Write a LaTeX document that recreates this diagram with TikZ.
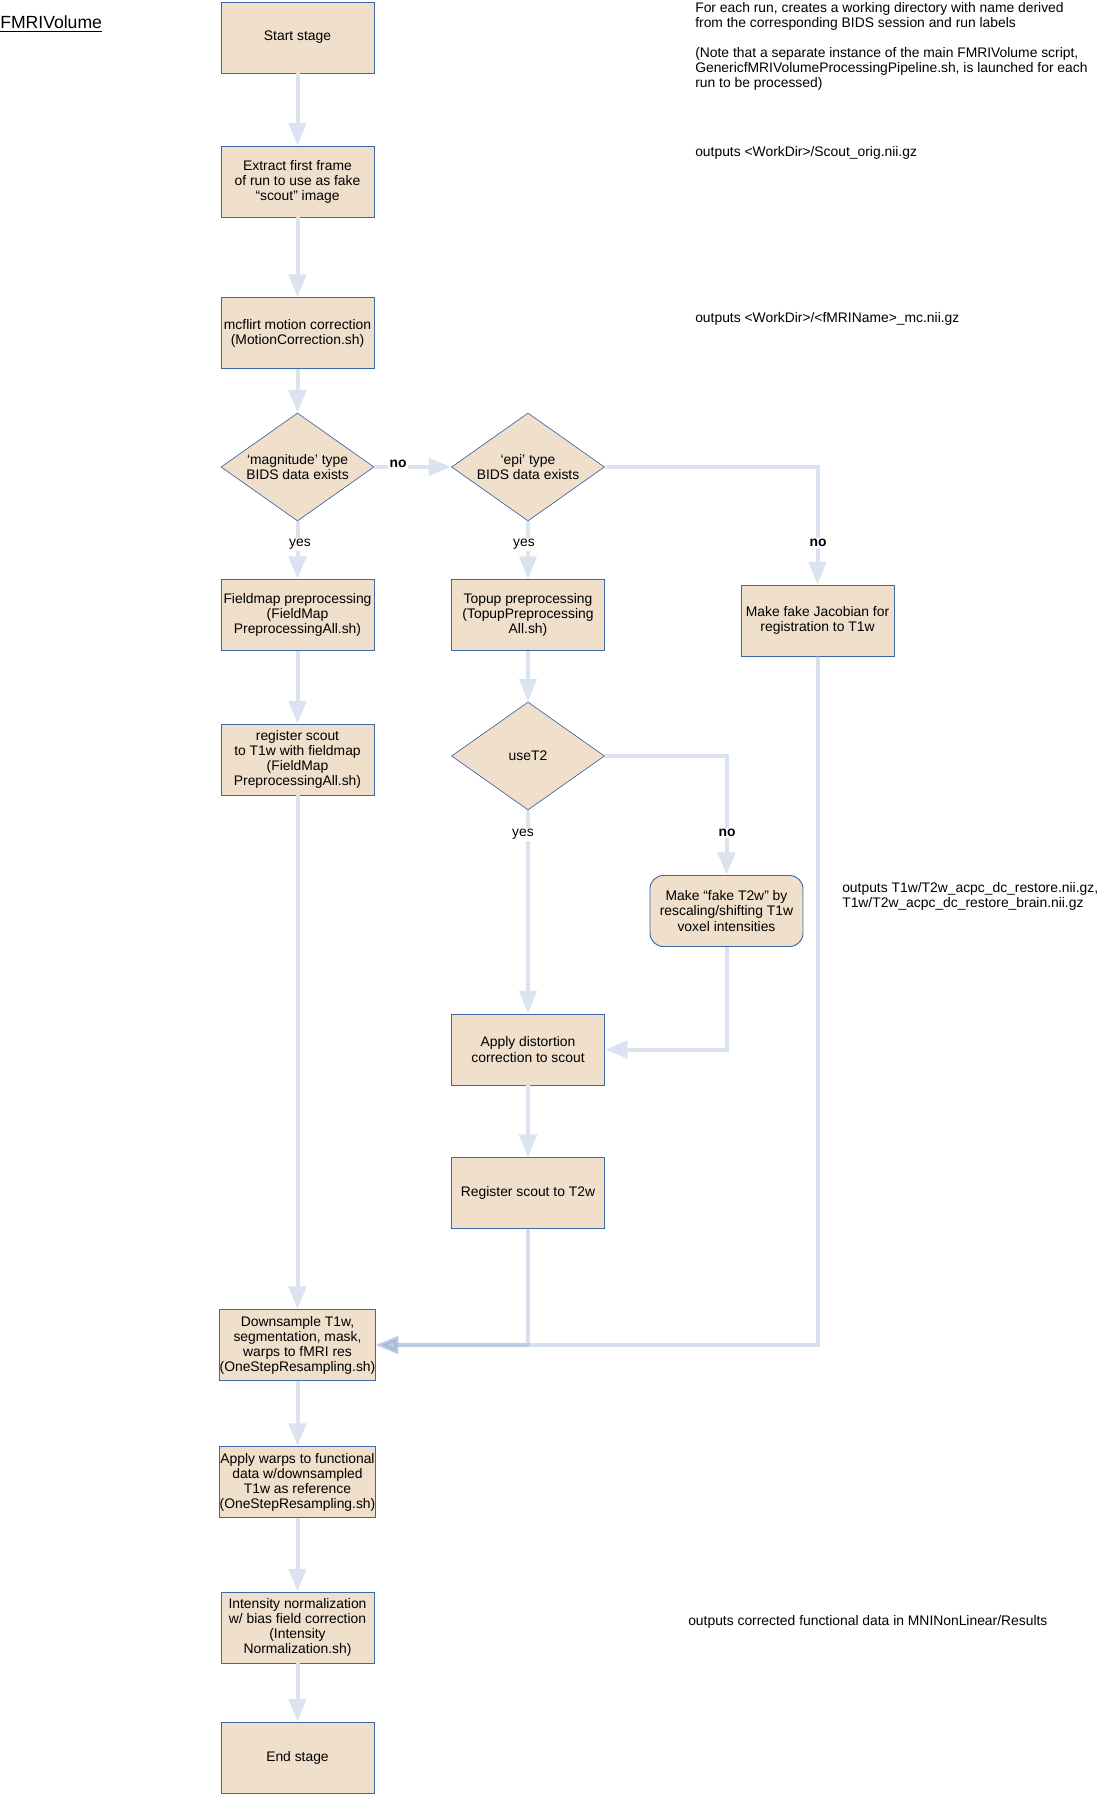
\documentclass[tikz,border=0pt]{standalone}
\usepackage{fontspec}
\setmainfont{Liberation Sans}
\usepackage{tikz}
\usetikzlibrary{shapes.geometric,arrows.meta}

\definecolor{stagefill}{HTML}{EFDFCB}
\definecolor{stageline}{HTML}{3F67A6}
\definecolor{flowline}{HTML}{DCE3F0}
\definecolor{mergeline}{HTML}{9AB0D2}
\newcommand{\flowfont}{\fontsize{10.4pt}{11.3pt}\selectfont}

\tikzset{
	stage/.style={draw=stageline, fill=stagefill, line width=0.7pt, minimum width=114.75pt, minimum height=53.25pt, inner sep=0pt, align=center, font=\flowfont},
	decision/.style={diamond, draw=stageline, fill=stagefill, line width=0.5pt, minimum width=114.75pt, minimum height=81pt, shape aspect=1.42, inner sep=0pt, align=center, font=\flowfont},
	flow/.style={draw=flowline, line width=3pt, -{Triangle[length=17pt,width=13pt]}},
	mergeflow/.style={draw=mergeline, opacity=0.4, line width=3pt, -{Triangle[length=17pt,width=13pt]}},
	yesno/.style={fill=white, inner sep=1pt, font=\flowfont},
	note/.style={align=left, inner sep=0pt, font=\flowfont},
}

\begin{document}
\begin{tikzpicture}[x=0.75pt, y=-0.75pt] %%%{{{
	 \useasboundingbox (0,0) rectangle (1102,1794);
	 \node[inner sep=0pt, anchor=base west, font=\fontsize{13.2pt}{15pt}\selectfont] (title) at (0,29) {\underline{FMRIVolume}};
	 % main column
	 \node[stage] (start) at (297.5,37.5) {Start stage};
	 \node[stage] (extract) at (297.5,181.5) {Extract first frame\\of run to use as fake\\“scout” image};
	 \node[stage] (mcflirt) at (297.5,333) {mcflirt motion correction\\(MotionCorrection.sh)};
	 \node[decision] (magn) at (297.5,467) {‘magnitude’ type\\BIDS data exists};
	 \node[stage] (fmprep) at (297.5,615) {Fieldmap preprocessing\\(FieldMap\\PreprocessingAll.sh)};
	 \node[stage] (fmreg) at (297.5,759.5) {register scout\\to T1w with fieldmap\\(FieldMap\\PreprocessingAll.sh)};
	 \node[stage] (downs) at (297.5,1345) {Downsample T1w,\\segmentation, mask,\\warps to fMRI res\\(OneStepResampling.sh)};
	 \node[stage] (warps) at (297.5,1482) {Apply warps to functional\\data w/downsampled\\T1w as reference\\(OneStepResampling.sh)};
	 \node[stage] (inorm) at (297.5,1627.5) {Intensity normalization\\w/ bias field correction\\(Intensity\\Normalization.sh)};
	 \node[stage] (endst) at (297.5,1757.5) {End stage};
	 % topup column
	 \node[decision] (epi) at (528,467) {‘epi’ type\\BIDS data exists};
	 \node[stage] (topup) at (528,615) {Topup preprocessing\\(TopupPreprocessing\\All.sh)};
	 \node[decision] (uset2) at (528,756) {useT2};
	 \node[stage] (distort) at (528,1049.5) {Apply distortion\\correction to scout};
	 \node[stage] (regt2) at (528,1193) {Register scout to T2w};
	 \node[stage, rounded corners=10pt] (faket2) at (726.5,911) {Make “fake T2w” by\\rescaling/shifting T1w\\voxel intensities};
	 \node[stage] (jacob) at (817.5,620.5) {Make fake Jacobian for\\registration to T1w};
	 % connectors
	 \foreach \a/\b in {start/extract, extract/mcflirt, mcflirt/magn, magn/fmprep, fmprep/fmreg, fmreg/downs, downs/warps, warps/inorm, inorm/endst, magn/epi, epi/topup, topup/uset2, uset2/distort, distort/regt2}
		\draw[flow] (\a) -- (\b);
	 \draw[flow] (epi.east) -| (jacob.north);
	 \draw[flow] (uset2.east) -| (faket2.north);
	 \draw[flow] (faket2.south) |- (distort.east);
	 \draw[mergeflow] (regt2.south) |- (downs.east);
	 \draw[mergeflow] (jacob.south) |- (downs.east);
	 \node[yesno] (yes1) at (300,544) {yes};
	 \node[yesno] (yes2) at (524,544) {yes};
	 \node[yesno] (yes3) at (523,834) {yes};
	 \node[yesno, font=\flowfont\bfseries] (no1) at (398,464) {no};
	 \node[yesno, font=\flowfont\bfseries] (no2) at (818,543) {no};
	 \node[yesno, font=\flowfont\bfseries] (no3) at (727,833) {no};
	 % notes on the right
	 \node[note, anchor=north west] (runnote) at (695,2) {For each run, creates a working directory with name derived\\from the corresponding BIDS session and run labels\\[11.5pt](Note that a separate instance of the main FMRIVolume script,\\GenericfMRIVolumeProcessingPipeline.sh, is launched for each\\run to be processed)};
	 \node[note, anchor=base west] (scoutnote) at (695,157) {outputs <WorkDir>/Scout\_orig.nii.gz};
	 \node[note, anchor=base west] (mcnote) at (695,322) {outputs <WorkDir>/<fMRIName>\_mc.nii.gz};
	 \node[note, anchor=north west] (t2note) at (842,882) {outputs T1w/T2w\_acpc\_dc\_restore.nii.gz,\\T1w/T2w\_acpc\_dc\_restore\_brain.nii.gz};
	 \node[note, anchor=base west] (resnote) at (688,1625) {outputs corrected functional data in MNINonLinear/Results};
\end{tikzpicture}
\end{document}
